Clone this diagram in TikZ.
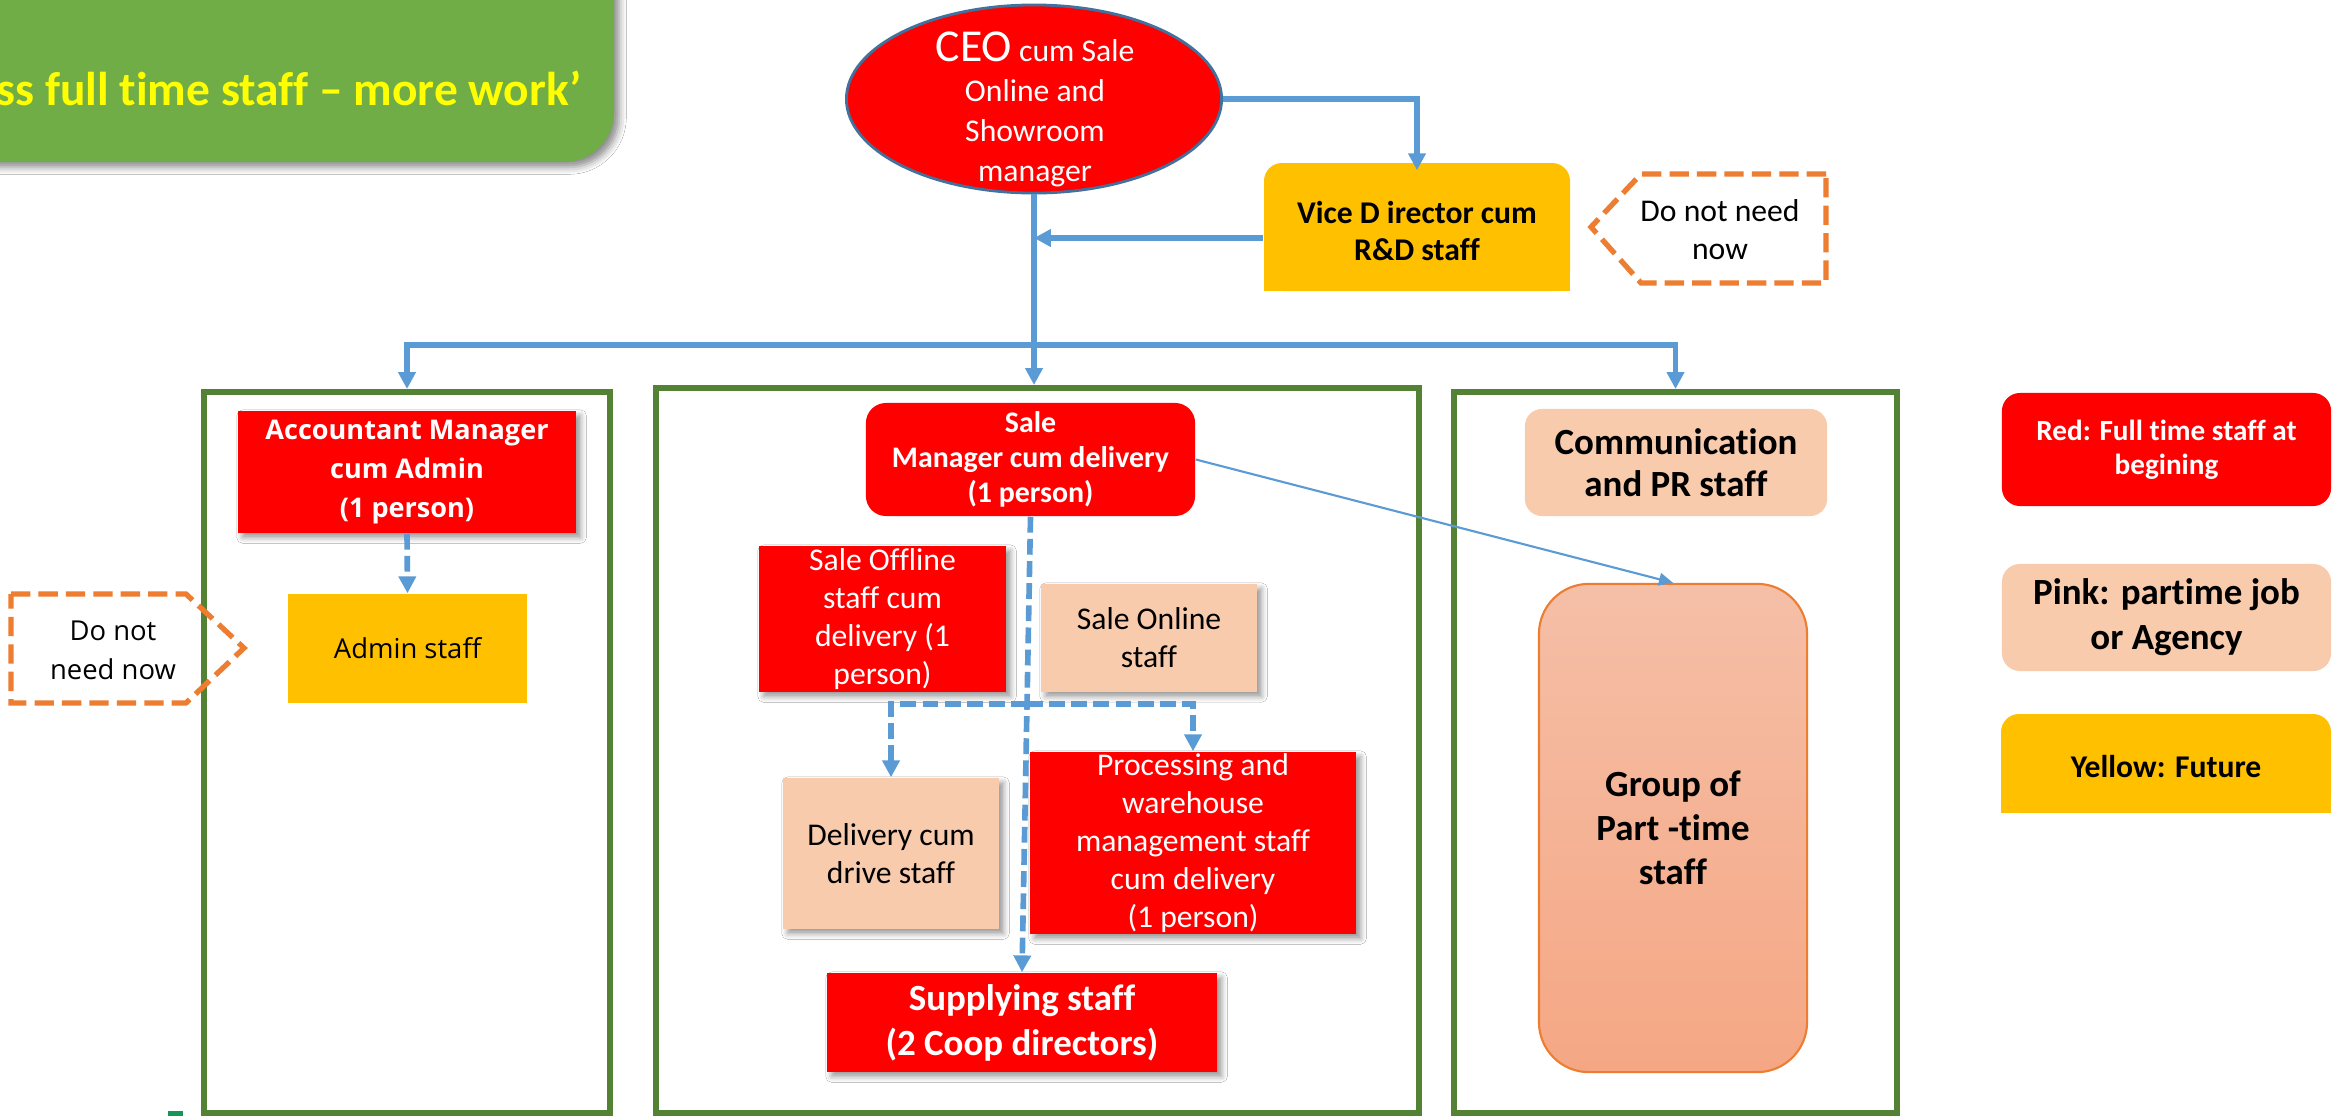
\documentclass[tikz,border=0pt]{standalone}
\usepackage{fontspec}
\setmainfont{Carlito}[Ligatures=NoCommon]
\newfontfamily\vfont{Open Sans}[Ligatures=NoCommon]
\usetikzlibrary{arrows.meta,shapes.geometric,shadows.blur,calc}
\definecolor{cred}{HTML}{FF0000}
\definecolor{cyellow}{HTML}{FFC000}
\definecolor{cpink}{HTML}{F8CBAD}
\definecolor{cblue}{HTML}{5B9BD5}
\definecolor{fgreen}{HTML}{548235}
\definecolor{bgreen}{HTML}{70AD47}
\definecolor{bannerY}{HTML}{FFFF00}
\definecolor{corange}{HTML}{ED7D31}
\definecolor{ceob}{HTML}{41719C}
\definecolor{gtop}{RGB}{245,191,167}
\definecolor{gbot}{RGB}{245,167,132}
\definecolor{markg}{RGB}{20,150,90}
\newcommand\myfs[2]{\fontsize{#1}{#2}\selectfont}
\begin{document}
\begin{tikzpicture}[x=0.01cm,y=-0.01cm,
  box/.style={rectangle, inner sep=0pt, align=center},
  redbox/.style={box, fill=cred, text=white},
  pinkbox/.style={box, fill=cpink, text=black},
  shad/.style={blur shadow={shadow xshift=1.3pt,shadow yshift=-1.3pt,shadow blur radius=1.6pt,shadow opacity=40}},
  frm/.style={rectangle, draw=fgreen, line width=1.6pt, inner sep=0pt},
  cline/.style={draw=cblue, line width=1.6pt},
  conn/.style={cline, -{Triangle[length=4.8pt,width=4.8pt]}},
  dconn/.style={conn, line width=1.6pt, dash pattern=on 4.5pt off 1.8pt},
  tconn/.style={draw=cblue, line width=0.6pt, -{Triangle[length=4pt,width=3.6pt]}},
  odash/.style={draw=corange, line width=1.5pt, dash pattern=on 5.5pt off 2.3pt}
]
\useasboundingbox (0,0) rectangle (2346,1115);
\fill[white] (0,0) rectangle (2346,1115);

% banner
\fill[bgreen, rounded corners=0.5cm, blur shadow={shadow xshift=1.5pt,shadow yshift=-1.5pt,shadow blur radius=2pt,shadow opacity=45}] (-100,-100) rectangle (614,162);
\node[anchor=base east, inner sep=0pt, text=bannerY, font=\bfseries\myfs{13.5}{16}] (banner) at (582,105) {ss full time staff – more work’};

% frames
\node[frm, minimum width=4.06cm, minimum height=7.21cm] (fl) at (407,752.5) {};
\node[frm, minimum width=7.63cm, minimum height=7.25cm] (fm) at (1037.5,750.5) {};
\node[frm, minimum width=4.43cm, minimum height=7.21cm] (fr) at (1675.5,752.5) {};
\fill[markg] (168,1111) rectangle (183,1116);

% CEO
\node[ellipse, fill=cred, draw=ceob, line width=0.8pt, minimum width=3.75cm, minimum height=1.88cm, inner sep=0pt] (ceo) at (1034,99) {};
\node[align=center, inner sep=0pt, text=white, font=\myfs{9}{11.4}] (ceot) at (1035,109.5) {{\myfs{13}{11.4}CEO} cum Sale\\Online and\\Showroom\\manager};

% Vice director
\fill[cyellow, rounded corners=0.18cm] (1264,163) rectangle (1570,291);
\fill[cyellow] (1264,230) rectangle (1570,291);
\node[box, minimum width=3.06cm, minimum height=1.2cm, font=\bfseries\myfs{9}{10.8}] (vd) at (1417,231) {Vice D irector cum\\R\&D staff};

% Do not need now (right)
\draw[odash] (1826,174) -- (1641,174) -- (1591,227) -- (1641,283) -- (1826,283) -- cycle;
\node[box, font=\myfs{9}{11}] (dnnR) at (1720,229.5) {Do not need\\now};

% left column
\node[redbox, shad, minimum width=3.38cm, minimum height=1.22cm, font=\vfont\bfseries\myfs{7.7}{11}] (acct) at (407,472) {Accountant Manager\\cum Admin\\(1 person)};
\node[box, fill=cyellow, minimum width=2.39cm, minimum height=1.09cm, font=\vfont\myfs{7.8}{11}] (admin) at (407.5,648.5) {Admin staff};

% middle column
\node[redbox, rounded corners=0.2cm, minimum width=3.29cm, minimum height=1.13cm, font=\bfseries\myfs{8.5}{10}] (smgr) at (1030.5,459.5) {Sale\\Manager cum delivery\\(1 person)};
\node[redbox, shad, minimum width=2.47cm, minimum height=1.46cm, font=\myfs{9}{10.8}] (soff) at (882.5,619) {Sale Offline\\staff cum\\delivery (1\\person)};
\node[pinkbox, shad, minimum width=2.16cm, minimum height=1.08cm, font=\myfs{9}{10.8}] (sonl) at (1149,638) {Sale Online\\staff};
\node[pinkbox, shad, minimum width=2.16cm, minimum height=1.51cm, font=\myfs{9}{10.8}] (deliv) at (891,853.5) {Delivery cum\\drive staff};
\node[redbox, shad, minimum width=3.26cm, minimum height=1.82cm, font=\myfs{9}{10.8}] (proc) at (1193,843) {Processing and\\warehouse\\management staff\\cum delivery\\(1 person)};
\node[redbox, shad, minimum width=3.90cm, minimum height=0.99cm, font=\bfseries\myfs{10.5}{12.8}] (supply) at (1022,1022.5) {Supplying staff\\(2 Coop directors)};

% right column
\node[pinkbox, rounded corners=0.17cm, minimum width=3.02cm, minimum height=1.07cm, font=\bfseries\myfs{10.5}{12}] (comm) at (1676,462.5) {Communication\\and PR staff};
\node[box, rounded corners=0.5cm, top color=gtop, bottom color=gbot, draw=corange, line width=0.6pt, minimum width=2.68cm, minimum height=4.88cm, font=\bfseries\myfs{10.5}{12.5}] (group) at (1673,828) {Group of\\Part -time\\staff};

% legend
\node[redbox, rounded corners=0.18cm, minimum width=3.29cm, minimum height=1.13cm, font=\bfseries\myfs{8.3}{9.7}] (legr) at (2166.5,449.5) {Red: Full time staff at\\begining};
\node[pinkbox, rounded corners=0.18cm, minimum width=3.29cm, minimum height=1.07cm, font=\bfseries\myfs{10.5}{12.8}] (legp) at (2166.5,617.5) {Pink: partime job\\or Agency};
\fill[cyellow, rounded corners=0.18cm] (2001,714) rectangle (2331,813);
\fill[cyellow] (2001,760) rectangle (2331,813);
\node[box, font=\bfseries\myfs{9}{11}] (legy) at (2166,766) {Yellow: Future};

% connectors
\draw[conn] (ceo.east) -| (vd.north);
\coordinate (vdl) at ($(vd.west)+(0,7)$);
\draw[conn] (vdl) -- (vdl -| ceo.south);
\draw[conn] (ceo.south) -- (ceo.south |- fm.north);
\coordinate (busM) at (1034,345);
\draw[conn] (busM) -| (fl.north);
\draw[conn] (busM) -| (fr.north);
\draw[dconn] (acct.south) -- (admin.north);
\draw[dconn] (smgr.south) -- (supply.north);
\coordinate (jn) at (1027,704);
\draw[dconn] (jn) -| (deliv.north);
\draw[dconn] (jn) -| (proc.north);
\draw[tconn] (smgr.east) -- (group.north);

% Do not need now (left)
\draw[odash] (11,594) -- (186,594) -- (244,648) -- (186,703) -- (11,703) -- cycle;
\node[box, font=\vfont\myfs{7.8}{11}] (dnnL) at (113,650) {Do not\\need now};
\end{tikzpicture}
\end{document}
